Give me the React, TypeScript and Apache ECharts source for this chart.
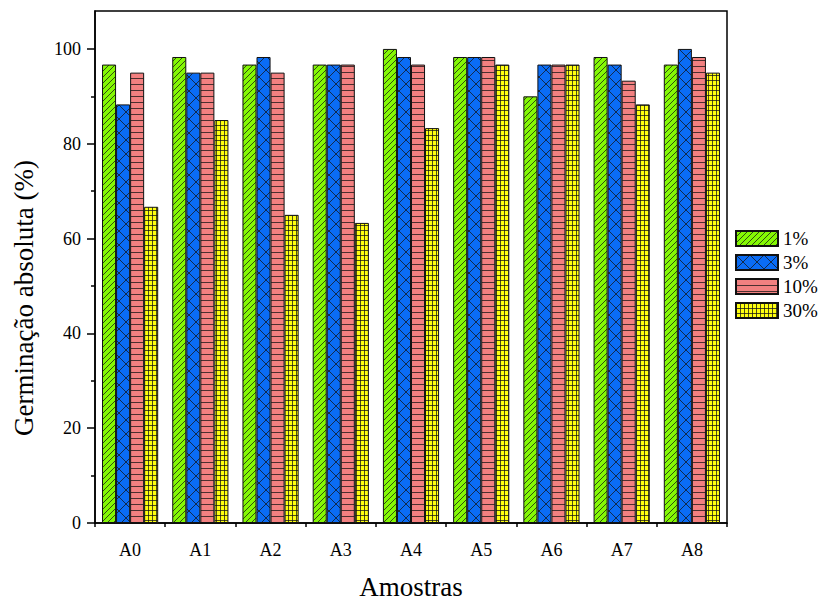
import React, { useEffect, useRef } from "react";
import * as echarts from "echarts";

const categories = ["A0", "A1", "A2", "A3", "A4", "A5", "A6", "A7", "A8"];
const seriesNames = ["1%", "3%", "10%", "30%"];
const values1 = [96.7, 98.3, 96.7, 96.7, 100, 98.3, 90, 98.3, 96.7];
const values3 = [88.3, 95, 98.3, 96.7, 98.3, 98.3, 96.7, 96.7, 100];
const values10 = [95, 95, 95, 96.7, 96.7, 98.3, 96.7, 93.3, 98.3];
const values30 = [66.7, 85, 65, 63.3, 83.3, 96.7, 96.7, 88.3, 95];
const yTicks = [0, 20, 40, 60, 80, 100];
const yMinorTicks = [10, 30, 50, 70, 90];

const FONT = "Liberation Serif";

function makePattern(bg: string, w: number, h: number, draw: (ctx: CanvasRenderingContext2D, w: number, h: number) => void) {
  const c = document.createElement("canvas");
  c.width = w;
  c.height = h;
  const ctx = c.getContext("2d") as CanvasRenderingContext2D;
  ctx.fillStyle = bg;
  ctx.fillRect(0, 0, w, h);
  ctx.strokeStyle = "rgba(20,20,20,0.75)";
  ctx.lineWidth = 1;
  ctx.beginPath();
  draw(ctx, w, h);
  ctx.stroke();
  return { image: c, repeat: "repeat" } as any;
}

export default function App() {
  const ref = useRef<HTMLDivElement>(null);
  useEffect(() => {
    if (!ref.current) return;
    const chart = echarts.init(ref.current, null, { renderer: "svg" });

    const green = makePattern("#84F804", 6, 6, (ctx, w, h) => {
      for (let k = -1; k <= 1; k++) {
        ctx.moveTo(k * w, h);
        ctx.lineTo(k * w + w, 0);
      }
    });
    const blue = makePattern("#0A6CF5", 14, 14, (ctx, w, h) => {
      ctx.moveTo(0, 0);
      ctx.lineTo(w, h);
      ctx.moveTo(0, h);
      ctx.lineTo(w, 0);
    });
    const red = makePattern("#F28080", 6, 6, (ctx, w) => {
      ctx.moveTo(0, 0.5);
      ctx.lineTo(w, 0.5);
    });
    const yellow = makePattern("#FFFF10", 4, 5, (ctx, w, h) => {
      ctx.moveTo(0, 0.5);
      ctx.lineTo(w, 0.5);
      ctx.moveTo(0.5, 0);
      ctx.lineTo(0.5, h);
    });
    const fills = [green, blue, red, yellow];
    const data = [values1, values3, values10, values30];

    chart.setOption({
      animation: false,
      backgroundColor: "#ffffff",
      textStyle: { fontFamily: FONT },
      grid: {
        left: 95,
        right: 93,
        top: 11,
        bottom: 78,
        containLabel: false,
        outerBoundsMode: "none",
        show: true,
        borderColor: "#000",
        borderWidth: 1.5,
        backgroundColor: "transparent",
      },
      legend: {
        orient: "vertical",
        left: 730,
        top: 224,
        itemWidth: 42,
        itemHeight: 15,
        itemGap: 5,
        icon: "rect",
        data: seriesNames,
        textStyle: { fontFamily: FONT, fontSize: 19, color: "#000" },
      },
      xAxis: [
        {
          type: "category",
          data: categories,
          position: "bottom",
          axisLine: { lineStyle: { color: "#000", width: 1.5 } },
          axisTick: { alignWithLabel: true, length: 8, lineStyle: { color: "#000", width: 1.5 } },
          axisLabel: { color: "#000", fontSize: 18, fontFamily: FONT, margin: 18 },
          name: "Amostras",
          nameLocation: "middle",
          nameGap: 50,
          nameTextStyle: { fontSize: 27, fontFamily: FONT, color: "#000" },
        },
        {
          type: "category",
          data: categories,
          position: "bottom",
          axisLine: { show: false },
          axisTick: { show: true, length: 4, lineStyle: { color: "#000", width: 1.5 } },
          axisLabel: { show: false },
        },
      ],
      yAxis: [
        {
          type: "value",
          min: 0,
          max: 108,
          interval: 20,
          splitLine: { show: false },
          axisLine: { show: true, lineStyle: { color: "#000", width: 1.5 } },
          axisTick: { show: true, length: 8, customValues: yTicks, lineStyle: { color: "#000", width: 1.5 } },
          axisLabel: { color: "#000", fontSize: 18, fontFamily: FONT, margin: 14, customValues: yTicks },
          name: "Germinação absoluta (%)",
          nameLocation: "middle",
          nameGap: 58,
          nameTextStyle: { fontSize: 27, fontFamily: FONT, color: "#000", padding: [0, 62, 0, 0] },
        },
        {
          type: "value",
          min: 0,
          max: 108,
          interval: 10,
          position: "left",
          splitLine: { show: false },
          axisLine: { show: false },
          axisTick: { show: true, length: 4, customValues: yMinorTicks, lineStyle: { color: "#000", width: 1.5 } },
          axisLabel: { show: false },
        },
      ],
      series: seriesNames.map((name, i) => ({
        name,
        type: "bar",
        xAxisIndex: 0,
        yAxisIndex: 0,
        data: data[i],
        barGap: "0%",
        barCategoryGap: "20%",
        itemStyle: { color: fills[i], borderColor: "#111", borderWidth: 1 },
      })),
    });
    return () => chart.dispose();
  }, []);
  return <div ref={ref} style={{ width: 820, height: 601, position: "absolute", left: 0, top: 0 }} />;
}
